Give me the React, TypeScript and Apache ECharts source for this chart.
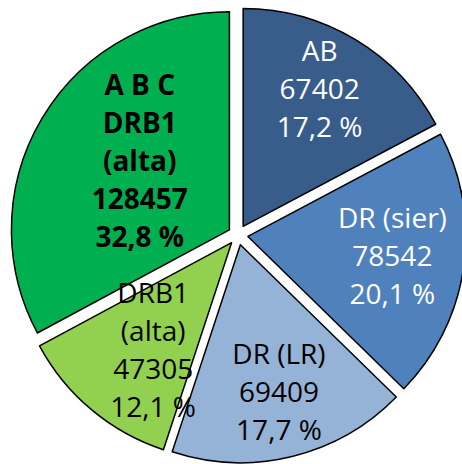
import React, { useEffect, useRef } from "react";
import * as echarts from "echarts";

const names = ["AB", "DR (sier)", "DR (LR)", "DRB1\n(alta)", "A B C\nDRB1\n(alta)"];
const values = [67402, 78542, 69409, 47305, 128457];
const colors = ["#385d8a", "#4f81bd", "#95b3d7", "#92d050", "#00b050"];
const textColors = ["#ffffff", "#ffffff", "#000000", "#000000", "#000000"];
const textWeights = ["normal", "normal", "normal", "normal", "bold"];
const labelShift = [50, 38, 38, 24, 3];
const labelNudge = [[-7, 0], [-4, -3], [3, 1], [9, 2], [9, -11]];

export default function App() {
  const ref = useRef<HTMLDivElement>(null);
  useEffect(() => {
    if (!ref.current) return;
    const chart = echarts.init(ref.current, null, { renderer: "svg" });
    const total = values.reduce((a, b) => a + b, 0);
    const mids: number[] = [];
    let cum = 0;
    values.forEach((v) => {
      mids.push(((cum + v / 2) / total) * Math.PI * 2);
      cum += v;
    });
    chart.setOption({
      animation: false,
      series: [
        {
          type: "pie",
          center: [238, 235],
          radius: [0, 218],
          startAngle: 90,
          clockwise: true,
          selectedMode: "multiple",
          selectedOffset: 10,
          avoidLabelOverlap: false,
          itemStyle: { borderColor: "#000000", borderWidth: 1.5 },
          emphasis: { disabled: true, scale: false },
          select: { itemStyle: { borderColor: "#000000", borderWidth: 1.5 } },
          label: {
            show: true,
            position: "inside",
            fontFamily: "Open Sans",
            fontSize: 28,
            lineHeight: 38,
            align: "center",
            formatter: (p: any) =>
              p.name + "\n" + p.value + "\n" +
              ((p.value / total) * 100).toFixed(1).replace(".", ",") + " %",
          },
          labelLine: { show: false },
          labelLayout: (p: any) => {
            const i = p.dataIndex;
            const a = mids[i];
            return {
              dx: Math.sin(a) * labelShift[i] + labelNudge[i][0],
              dy: -Math.cos(a) * labelShift[i] + labelNudge[i][1],
            };
          },
          data: values.map((v, i) => ({
            name: names[i],
            value: v,
            selected: true,
            itemStyle: { color: colors[i] },
            label: { color: textColors[i], fontWeight: textWeights[i] },
            select: {
              itemStyle: { color: colors[i] },
              label: { color: textColors[i], fontWeight: textWeights[i] },
            },
          })),
        },
      ],
    });
    return () => chart.dispose();
  }, []);
  return (
    <div
      ref={ref}
      style={{ position: "fixed", left: 0, top: 0, width: 462, height: 464, background: "#fff" }}
    />
  );
}
